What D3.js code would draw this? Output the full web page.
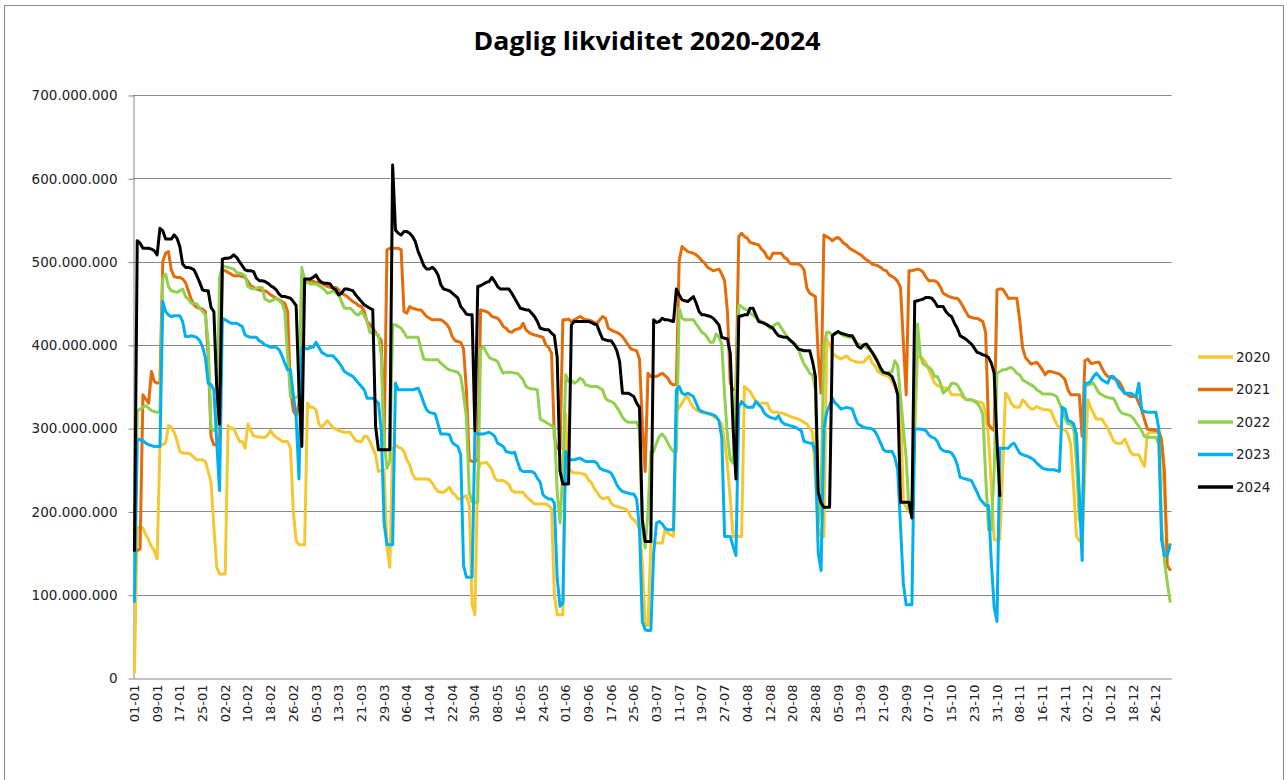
<!DOCTYPE html>
<html><head><meta charset="utf-8">
<script src="https://cdn.jsdelivr.net/npm/d3@7"></script>
<style>body{margin:0;background:#fff}svg{display:block}</style>
</head><body>
<svg id="c" width="1287" height="780"></svg>
<script>
// ---- data (values in millions) ----
const seriesNames = ["2020","2021","2022","2023","2024"];
const seriesColors = ["#F5C730","#E46C0A","#92D050","#00B0F0","#000000"];

const y2020 = [7,180,182,180,172,166,158,153,143,280,280,282,303,301,295,285,272,270,270,270,268,265,262,262,262,260,248,235,182,133,125,
125,125,303,300,299,292,284,284,276,305,297,291,290,289,289,289,292,297,292,289,287,284,284,284,276,200,165,160,160,
160,330,325,325,322,305,301,305,309,305,300,299,297,296,295,295,295,290,285,284,284,290,290,284,276,268,248,249,250,158,133,
275,280,277,276,272,262,256,245,239,239,239,239,239,238,234,228,224,223,223,226,229,223,220,215,215,217,219,207,88,76,
248,258,258,259,255,250,240,237,237,237,235,232,225,223,223,223,223,218,215,212,209,209,209,209,209,207,203,100,76,76,76,
317,252,248,246,246,246,245,244,238,235,228,223,218,215,216,217,210,207,206,205,204,203,200,193,190,186,178,140,63,63,
162,162,162,162,162,178,174,172,170,320,325,330,336,338,330,325,322,320,319,318,317,317,314,312,309,305,284,256,215,170,170,
170,170,350,347,344,338,333,330,330,330,330,322,319,319,319,318,317,316,314,313,312,311,309,307,305,300,295,240,182,170,170,
407,400,390,387,385,383,385,387,383,381,380,379,379,379,383,387,378,375,368,366,364,363,362,356,350,346,330,211,205,200,
200,300,387,385,383,378,370,362,354,351,350,349,348,346,340,340,340,340,337,335,334,334,333,332,331,330,318,290,230,166,166,
166,250,342,338,330,326,325,325,334,331,326,323,323,326,324,323,322,322,321,312,305,300,299,298,293,280,230,170,165,162,
250,334,325,318,311,311,311,305,300,293,285,282,282,282,287,280,272,268,268,268,260,254,293,295,295,295,295,288,220,162,156];

const y2021 = [153,153,155,340,335,330,368,356,354,355,500,510,512,490,482,481,481,479,475,465,455,448,445,444,443,440,387,290,280,280,282,
490,489,487,485,483,483,483,482,481,476,471,469,467,466,465,465,463,460,458,456,454,452,450,440,346,321,315,330,478,
478,478,477,476,475,475,474,472,470,469,469,469,466,462,460,458,455,452,450,447,446,440,428,425,420,415,410,405,280,514,516,
516,516,516,514,440,438,446,444,443,442,442,438,434,432,430,430,430,430,428,425,420,410,405,404,403,395,346,262,260,260,
262,442,441,440,438,434,433,432,428,422,420,416,415,418,419,420,426,418,415,413,412,411,410,409,400,397,390,290,275,275,430,
430,431,428,430,432,434,432,430,430,429,427,426,430,434,432,420,418,416,415,413,410,405,400,395,394,393,383,305,248,366,
362,362,362,364,366,363,360,354,352,352,501,518,515,512,511,510,508,505,501,498,493,491,489,490,491,485,477,440,354,346,346,
530,534,530,528,523,522,521,520,515,512,505,503,510,510,510,510,505,503,498,497,497,497,495,490,468,462,460,458,387,342,532,
530,528,525,528,529,526,522,520,516,514,512,510,508,505,502,500,497,496,495,493,490,489,484,482,480,476,469,403,340,489,
489,490,491,490,487,481,477,477,477,475,470,462,460,458,457,456,456,452,446,440,434,433,432,432,430,428,415,305,300,297,466,
467,467,462,456,456,456,456,430,397,385,381,377,378,379,375,370,364,368,368,367,366,365,362,358,346,340,340,340,340,290,
381,383,378,378,379,379,372,366,362,361,360,358,356,350,342,340,338,338,338,330,322,310,299,298,298,297,297,285,250,135,130];

const y2022 = [128,320,323,325,327,324,321,320,319,320,480,485,470,465,464,463,465,467,458,455,450,450,449,444,440,436,403,300,297,300,480,
495,494,493,492,491,487,486,485,483,470,468,467,468,469,469,455,453,452,454,456,453,450,440,387,338,337,337,338,493,
477,475,473,473,473,471,469,466,462,463,465,462,460,452,444,444,444,441,437,436,440,435,428,415,414,413,412,387,284,252,260,
424,424,422,420,415,409,409,409,409,409,395,383,382,382,382,382,382,378,375,372,370,369,368,367,362,340,313,223,211,211,
211,395,398,391,385,383,382,380,372,366,367,367,367,366,366,362,358,350,348,347,347,346,311,309,307,305,303,301,223,186,250,
364,356,357,354,356,360,358,352,351,350,350,350,348,346,336,333,332,330,325,320,313,309,307,307,307,307,297,182,156,200,
272,272,282,290,293,289,282,276,272,272,444,432,430,430,430,430,425,420,415,413,408,403,403,413,410,400,340,290,262,258,350,
448,446,443,442,438,436,433,430,428,426,424,420,422,425,426,420,415,410,405,403,401,395,385,377,372,366,364,346,185,220,400,
415,415,411,413,415,413,411,410,409,409,403,401,400,399,397,395,391,387,380,368,367,366,367,368,381,375,338,300,264,199,
199,300,425,387,377,375,373,370,362,362,355,342,345,348,354,354,352,346,340,334,334,334,332,330,325,317,243,178,178,250,366,
368,370,370,372,373,370,366,364,358,356,354,352,350,346,344,341,341,341,341,340,338,330,322,312,305,305,300,260,190,180,
350,352,353,354,348,342,340,338,337,336,336,330,322,318,317,316,315,312,307,302,297,290,289,289,289,289,280,182,141,115,92];

const y2023 = [92,287,286,285,282,280,279,278,278,278,452,440,436,434,435,435,435,428,410,410,411,410,409,405,398,385,354,352,346,284,225,
432,430,428,426,426,426,424,422,412,410,409,409,409,405,403,400,399,397,397,397,394,387,378,370,370,340,313,239,397,
396,395,397,397,403,397,391,389,387,387,387,383,379,374,368,366,364,362,358,354,350,346,336,336,336,333,330,297,186,160,160,
160,354,346,346,346,346,346,346,347,348,340,330,322,319,318,317,305,293,293,293,292,283,280,278,268,135,121,121,121,295,
293,293,293,294,295,293,290,282,280,278,272,271,270,271,260,250,248,248,248,248,246,240,235,220,217,215,215,210,120,86,90,
272,262,262,262,263,264,262,260,260,260,260,258,252,250,249,248,246,240,232,227,224,223,222,221,221,215,180,68,58,57,
57,150,186,188,185,180,178,178,178,346,350,342,340,342,340,338,330,322,320,319,318,317,316,314,309,289,170,170,170,158,147,
325,332,328,325,325,325,332,328,325,318,315,313,312,311,315,308,305,304,303,302,301,299,297,284,283,282,282,270,150,129,300,
319,327,336,330,327,323,324,325,324,323,313,305,303,301,300,300,299,296,290,282,274,272,272,272,265,250,182,113,88,88,
88,299,299,299,298,297,292,289,288,284,276,273,272,272,270,265,256,241,240,239,238,237,230,223,215,211,207,207,140,85,68,
276,276,276,276,280,282,276,270,268,267,266,264,262,258,255,252,251,250,250,250,249,248,325,323,309,308,305,293,223,141,
354,354,356,362,366,362,358,356,354,362,362,358,350,346,342,342,342,340,338,354,322,320,319,319,319,319,300,166,147,147,160];

const y2024 = [153,525,522,516,516,516,515,513,508,540,537,527,527,527,532,528,518,497,493,493,492,490,483,475,466,465,465,445,440,350,305,
503,504,504,505,508,505,500,495,490,489,489,488,480,477,477,476,474,471,469,466,461,458,458,457,456,452,447,346,278,
479,479,479,481,484,478,475,474,474,473,468,466,460,462,467,467,466,465,460,456,452,448,446,444,442,302,274,274,274,274,274,
616,538,534,532,536,536,534,530,524,512,504,495,491,491,493,490,484,472,467,466,465,462,459,456,446,442,437,436,436,297,
470,471,473,475,476,481,476,470,467,467,467,467,462,456,450,444,443,442,442,438,434,428,420,419,418,418,414,411,385,248,233,
233,233,424,428,428,428,428,428,428,427,425,424,415,407,406,405,405,400,393,380,342,342,342,340,338,330,325,190,164,164,
164,430,427,428,432,430,430,429,428,467,460,454,453,452,455,458,450,440,436,436,435,434,432,428,424,409,408,407,390,300,239,
434,435,436,436,444,444,436,428,427,426,424,422,420,415,411,410,409,409,406,403,399,395,394,393,393,393,380,362,223,210,205,
205,205,411,414,416,414,413,412,411,411,405,398,396,400,401,396,391,385,379,372,367,366,365,362,353,340,211,211,211,211,
192,452,453,454,455,457,457,456,452,446,446,446,440,436,434,426,420,411,409,407,404,401,396,391,390,388,387,385,378,366,284,
219];

const yTickValues = [0,100,200,300,400,500,600,700];
const xTickLabels = ["01-01","09-01","17-01","25-01","02-02","10-02","18-02","26-02","05-03","13-03","21-03","29-03","06-04","14-04","22-04","30-04","08-05","16-05","24-05","01-06","09-06","17-06","25-06","03-07","11-07","19-07","27-07","04-08","12-08","20-08","28-08","05-09","13-09","21-09","29-09","07-10","15-10","23-10","31-10","08-11","16-11","24-11","02-12","10-12","18-12","26-12"];
const categories = d3.timeDay.range(new Date(2024,0,1), new Date(2025,0,1)).map(d3.timeFormat("%d-%m"));
const allSeries = [y2020, y2021, y2022, y2023, y2024];

// ---- layout ----
const svg = d3.select("#c");
const L = 133, R = 1171.5, T = 95, B = 678;
const font = "'DejaVu Sans', Verdana, sans-serif";

svg.append("rect").attr("x",4.5).attr("y",5.5).attr("width",1279).attr("height",790)
  .attr("fill","#fff").attr("stroke","#8c8c8c").attr("stroke-width",1);

const x = d3.scaleBand().domain(categories).range([L, R]);
const y = d3.scaleLinear().domain([0, 700]).range([B, T]);
const cx = i => x(categories[i]) + x.bandwidth()/2;

// gridlines
svg.append("g").selectAll("line").data(yTickValues.filter(v=>v>0)).join("line")
  .attr("x1", L).attr("x2", R).attr("y1", d=>Math.round(y(d))+0.5).attr("y2", d=>Math.round(y(d))+0.5)
  .attr("stroke","#868686").attr("stroke-width",1);

// y axis
const fmt = v => d3.format(",")(v*1e6).replace(/,/g,".");
const yAxis = svg.append("g").attr("transform",`translate(${L+0.5},0.5)`)
  .call(d3.axisLeft(y).tickValues(yTickValues).tickFormat(fmt).tickSize(5).tickSizeOuter(0));
yAxis.select(".domain").attr("stroke","#868686");
yAxis.selectAll(".tick line").attr("stroke","#868686");
yAxis.selectAll("text").attr("font-family",font).attr("font-size",13.5).attr("fill","#222").attr("x",-16);

// x axis
const xAxis = svg.append("g").attr("transform",`translate(0,${B+0.5})`)
  .call(d3.axisBottom(x).tickValues(xTickLabels).tickSize(0).tickSizeOuter(0));
xAxis.select(".domain").attr("stroke","#868686");
xAxis.selectAll("text").attr("font-family",font).attr("font-size",13).attr("fill","#222")
  .attr("transform","rotate(-90)").attr("x",-6).attr("y",0).attr("dy","0.35em").style("text-anchor","end");

// lines
const line = d3.line().x((d,i)=>cx(i)).y(d=>y(d));
svg.append("g").selectAll("path").data(allSeries).join("path")
  .attr("d", d=>line(d)).attr("fill","none")
  .attr("stroke",(d,i)=>seriesColors[i]).attr("stroke-width",3)
  .attr("stroke-linejoin","round").attr("stroke-linecap","round");

// title
svg.append("text").attr("x",647).attr("y",50).attr("text-anchor","middle")
  .attr("font-family","'Open Sans', Lato, sans-serif").attr("font-weight","bold").attr("font-size",25)
  .attr("textLength",347).attr("lengthAdjust","spacingAndGlyphs")
  .attr("fill","#000").text("Daglig likviditet 2020-2024");

// legend
const lg = svg.append("g");
seriesNames.forEach((n,i)=>{
  const ly = 357 + i*32.5;
  lg.append("line").attr("x1",1198).attr("x2",1233).attr("y1",ly).attr("y2",ly)
    .attr("stroke",seriesColors[i]).attr("stroke-width",3.5);
  lg.append("text").attr("x",1236).attr("y",ly).attr("dy","0.36em")
    .attr("font-family",font).attr("font-size",13.5).attr("fill","#222").text(n);
});
</script>
</body></html>
